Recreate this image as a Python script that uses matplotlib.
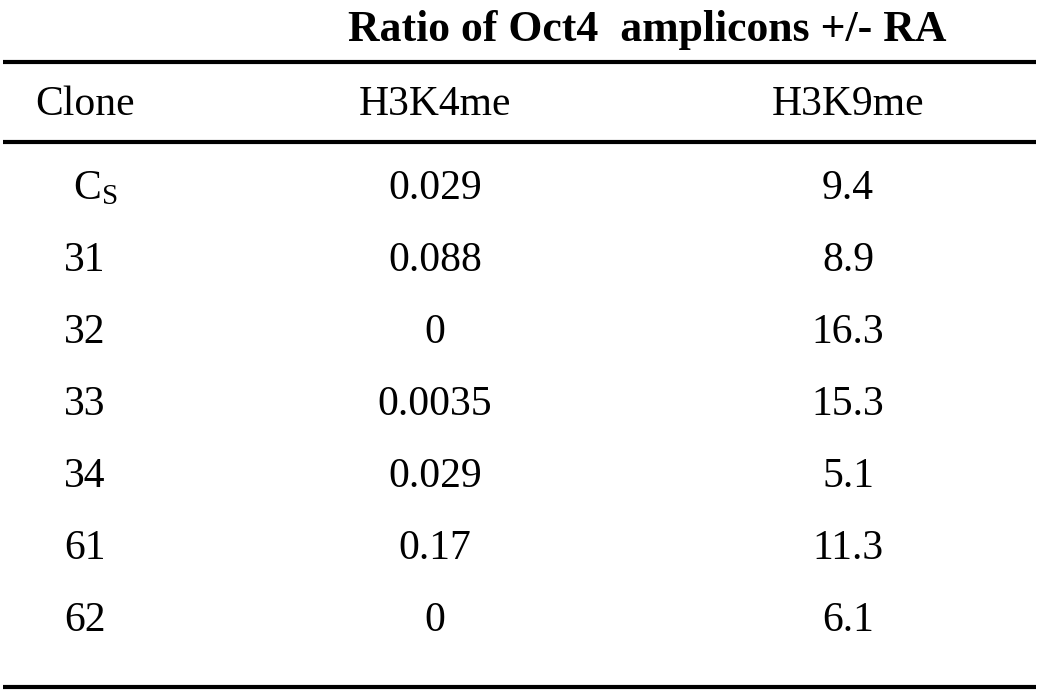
import matplotlib
matplotlib.use("Agg")
import matplotlib.pyplot as plt

plt.rcParams["font.family"] = ["Liberation Serif", "DejaVu Serif"]
plt.rcParams["mathtext.fontset"] = "custom"
plt.rcParams["mathtext.rm"] = "Liberation Serif"
plt.rcParams["mathtext.it"] = "Liberation Serif:italic"

title = "Ratio of Oct4  amplicons +/- RA"
columns = ["Clone", "H3K4me", "H3K9me"]
clones = [r"C$_{\mathrm{S}}$", "31", "32", "33", "34", "61", "62"]
h3k4me = ["0.029", "0.088", "0", "0.0035", "0.029", "0.17", "0"]
h3k9me = ["9.4", "8.9", "16.3", "15.3", "5.1", "11.3", "6.1"]

fig = plt.figure(figsize=(10.5, 7), dpi=100)
ax = fig.add_axes([0, 0, 1, 1])
ax.set_xlim(0, 1050)
ax.set_ylim(700, 0)
ax.axis("off")

col_x = [85, 435, 848]
fs = 30

ax.text(647, 30, title, ha="center", va="center", fontsize=31.5, fontweight="bold")

# rules
for y, lw in [(62, 3), (142, 3), (687, 3)]:
    ax.plot([3, 1036], [y, y], color="black", linewidth=lw, solid_capstyle="butt")

for x, c in zip(col_x, columns):
    ax.text(x, 105, c, ha="center", va="center", fontsize=fs)

row_y0 = 189
row_step = 72
for i, (c, a, b) in enumerate(zip(clones, h3k4me, h3k9me)):
    y = row_y0 + i * row_step
    ax.text(col_x[0] + (10 if i == 0 else 0), y, c, ha="center", va="center", fontsize=fs)
    ax.text(col_x[1], y, a, ha="center", va="center", fontsize=fs)
    ax.text(col_x[2], y, b, ha="center", va="center", fontsize=fs)

fig.savefig("out.png", dpi=100)
